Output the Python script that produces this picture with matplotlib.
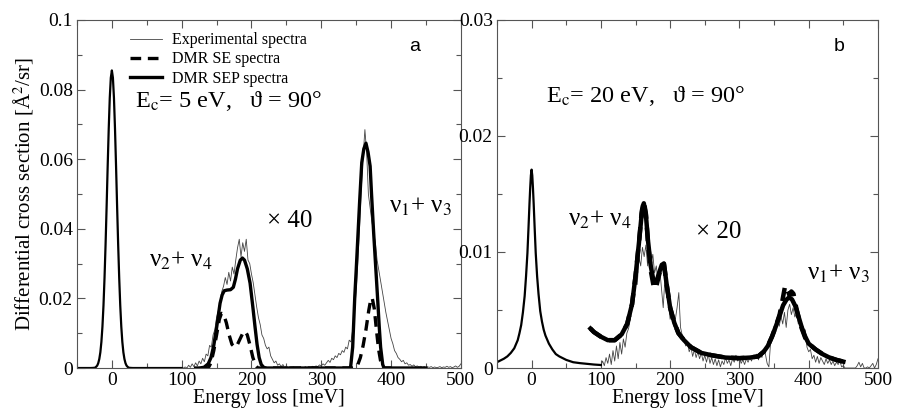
import numpy as np
import matplotlib.pyplot as plt
from matplotlib.ticker import MultipleLocator

plt.rcParams['font.family'] = ['Liberation Serif', 'DejaVu Serif']
plt.rcParams['mathtext.fontset'] = 'stix'

# ---------------- panel a : Ec = 5 eV ----------------
a_el_x = [-50, -30, -27, -24, -22.5, -21, -19.5, -18, -16.5, -15, -13.5, -12, -10.5, -9, -7.5,
          -6, -4.5, -3, -1.5, 0, 1.5, 3, 4.5, 6, 7.5, 9, 10.5, 12, 13.5, 15, 16.5, 18, 19.5,
          21, 22.5, 24, 27, 30, 100]
a_el_y = [0, 0, 0.00003, 0.0001, 0.00036, 0.0007, 0.0014, 0.0026, 0.0045, 0.0075, 0.0119,
          0.018, 0.026, 0.0356, 0.0465, 0.058, 0.0687, 0.0776, 0.0834, 0.0855, 0.0834, 0.0776,
          0.0687, 0.058, 0.0465, 0.0356, 0.026, 0.018, 0.0119, 0.0075, 0.0045, 0.0026, 0.0014,
          0.0007, 0.00036, 0.0001, 0.00003, 0, 0]

a_sep_x = [120, 125, 132, 138, 142, 146, 150, 155, 158, 161, 165, 170, 174, 177, 180, 184, 187,
           190, 194, 198, 202, 205, 208, 211, 214, 218, 222, 340, 342, 345, 348, 350, 353, 355,
           358, 361, 364, 367, 370, 372, 375, 378, 381, 383, 385, 388, 390, 450]
a_sep_y = [0, 0, 0.0002, 0.0012, 0.003, 0.0065, 0.0115, 0.0186, 0.021, 0.0222, 0.0224, 0.0225,
           0.0232, 0.0255, 0.0285, 0.031, 0.0316, 0.031, 0.0285, 0.0244, 0.0175, 0.012, 0.0068,
           0.003, 0.001, 0.0001, 0, 0, 0.0002, 0.006, 0.0205, 0.028, 0.040, 0.048, 0.059, 0.063,
           0.0646, 0.062, 0.058, 0.050, 0.039, 0.029, 0.019, 0.012, 0.006, 0.001, 0, 0]

a_se_x = [130, 138, 142, 146, 150, 154, 157, 160, 164, 168, 172, 176, 180, 184, 188, 191, 194,
          198, 202, 206, 209, 348, 352, 356, 360, 364, 368, 371, 373, 376, 379, 382, 385, 389, 400]
a_se_y = [0, 0, 0.0015, 0.005, 0.0095, 0.014, 0.0157, 0.0155, 0.013, 0.0095, 0.0068, 0.006,
          0.0068, 0.0085, 0.0102, 0.0105, 0.0095, 0.0065, 0.003, 0.0008, 0, 0, 0.0008, 0.003,
          0.0065, 0.011, 0.0165, 0.0198, 0.0201, 0.017, 0.011, 0.0055, 0.002, 0, 0]

# experimental, 100..500 meV every 2.5 meV
exp_x = np.arange(100, 500.1, 2.5)
a_exp_y = [0, 0, 0.0003, 0, 0.0008, 0.0002, 0.0012, 0.0004, 0.0015,
           0.0006, 0.002, 0.0012, 0.0028, 0.0018, 0.004, 0.0035, 0.0065,
           0.006, 0.0095, 0.011, 0.0145, 0.0165, 0.019, 0.022, 0.0235,
           0.026, 0.024, 0.0275, 0.025, 0.029, 0.027, 0.031, 0.0345,
           0.037, 0.032, 0.036, 0.0335, 0.037, 0.031, 0.030, 0.027,
           0.0245, 0.021, 0.0175, 0.0145, 0.0125, 0.0095, 0.0085, 0.0065,
           0.0055, 0.006, 0.0035, 0.0025, 0.0015, 0.002, 0.0008, 0.0012,
           0.0004, 0.001, 0.0002, 0.0006, 0.0001, 0.0004, 0, 0.0003,
           0, 0.0002, 0, 0.0003, 0, 0.0001, 0.0004, 0, 0.0002, 0.0001, 0.0005, 0.0003,
           0.0006, 0.0004, 0.0009, 0.0006,
           0.0012, 0.0008, 0.0015, 0.0022, 0.0016, 0.0028, 0.0024, 0.0035,
           0.003, 0.0042, 0.0038, 0.005, 0.0045, 0.006, 0.0055, 0.008,
           0.0075, 0.011, 0.016, 0.022, 0.031, 0.041, 0.052, 0.061,
           0.0685, 0.062, 0.050, 0.046, 0.042, 0.039, 0.036, 0.031,
           0.028, 0.025, 0.022, 0.019, 0.016, 0.0135, 0.011, 0.0085,
           0.007, 0.005, 0.0042, 0.003, 0.0025, 0.0018, 0.0022, 0.0012,
           0.0015, 0.0008, 0.001, 0.0005, 0.0009, 0.0004, 0.0006, 0.0003,
           0.0005, 0.0002, 0.0004, 0.0001, 0.0003, 0.0002, 0.0004, 0.0001,
           0.0003, 0.0001, 0.0002, 0.0004, 0.0001, 0.0003, 0.0002, 0.0005,
           0.0002, 0.0004, 0.0001, 0.0003, 0.0006, 0.0002, 0.0005, 0.0012]

# ---------------- panel b : Ec = 20 eV ----------------
b_el_x = [-50, -45, -40, -35, -30, -25, -20, -17.5, -15, -12.5, -10, -8, -6, -4.5, -3, -2, -1,
          0, 1, 2, 3, 4.5, 6, 8, 10, 12.5, 15, 17.5, 20, 25, 30, 35, 40, 45, 50, 55, 60, 70,
          80, 90, 100]
b_el_y = [0.0005, 0.00065, 0.0008, 0.001, 0.0013, 0.0017, 0.0024, 0.003, 0.0037, 0.0048,
          0.0062, 0.0079, 0.0099, 0.012, 0.0142, 0.0155, 0.0166, 0.0171, 0.0166, 0.0155,
          0.0142, 0.012, 0.0099, 0.0079, 0.0064, 0.0049, 0.0040, 0.0033, 0.0028, 0.0021,
          0.0016, 0.0012, 0.0010, 0.00085, 0.0007, 0.0006, 0.0005, 0.00042, 0.00036, 0.0003,
          0.00026]

b_sep_x = [85, 90, 100, 110, 120, 130, 138, 145, 150, 155, 159, 162, 165, 168, 172, 176, 180,
           184, 188, 191, 195, 200, 206, 212, 220, 230, 245, 260, 280, 300, 315, 327, 335, 341,
           347, 352, 358, 363, 368, 372, 376, 381, 385, 390, 395, 400, 410, 420, 430, 440, 450]
b_sep_y = [0.0034, 0.0031, 0.0027, 0.0024, 0.0024, 0.0029, 0.0038, 0.0055, 0.0079, 0.0108,
           0.0133, 0.0142, 0.0132, 0.011, 0.0088, 0.0075, 0.0074, 0.0082, 0.0089, 0.009,
           0.0072, 0.0052, 0.0039, 0.003, 0.0024, 0.0018, 0.0013, 0.0011, 0.0009, 0.00085,
           0.0009, 0.001, 0.0014, 0.0019, 0.0027, 0.0035, 0.0045, 0.0054, 0.0059, 0.0061,
           0.0059, 0.0053, 0.0045, 0.0035, 0.0027, 0.0021, 0.0016, 0.0012, 0.0009, 0.0007,
           0.00055]

b_se_x = [85, 90, 100, 110, 120, 130, 138, 145, 150, 155, 159, 162, 165, 168, 172, 176, 179,
          184, 188, 191, 195, 200, 206, 212, 220, 230, 245, 260, 280, 300, 315, 327, 335, 341,
          347, 352, 358, 362, 366, 369, 372, 375, 378, 382, 386, 390, 395, 400, 410, 420, 430,
          440, 450]
b_se_y = [0.0034, 0.0031, 0.0027, 0.0024, 0.0024, 0.0029, 0.0038, 0.0055, 0.0079, 0.0108,
          0.0135, 0.0144, 0.0133, 0.0108, 0.0084, 0.0071, 0.0068, 0.0080, 0.0089, 0.009,
          0.0072, 0.0052, 0.0039, 0.003, 0.0024, 0.0018, 0.0013, 0.0011, 0.0009, 0.00085,
          0.0009, 0.001, 0.0014, 0.0019, 0.0027, 0.0035, 0.0046, 0.0058, 0.0071, 0.0068,
          0.0063, 0.0066, 0.0064, 0.0052, 0.0042, 0.0034, 0.0026, 0.0021, 0.0016, 0.0012,
          0.0009, 0.0007, 0.00055]

b_exp_y = [0.0002, 0.0006, 0.0002, 0.0009, 0.0004, 0.0012, 0.0003, 0.0015, 0.0006,
           0.0019, 0.0008, 0.0022, 0.0012, 0.0025, 0.0018, 0.003, 0.0034,
           0.0042, 0.0052, 0.0065, 0.008, 0.0072, 0.0095, 0.0088, 0.0104,
           0.0096, 0.0106, 0.0088, 0.0104, 0.009, 0.0098, 0.0082, 0.0088,
           0.0075, 0.0085, 0.0068, 0.0052, 0.0078, 0.0062, 0.0055, 0.0042,
           0.0048, 0.0036, 0.0042, 0.0052, 0.0065, 0.0035, 0.0028, 0.0024,
           0.0019, 0.0022, 0.0014, 0.0018, 0.001, 0.0016, 0.0009, 0.0014,
           0.0008, 0.0013, 0.0006, 0.0011, 0.0005, 0.0012, 0.0004, 0.0009,
           0.0003, 0.0008, 0.0002, 0.0007, 0.0001, 0.0006, 0.0003, 0.0009, 0.0004, 0.0007,
           0.0002, 0.0008, 0.0005, 0.0011, 0.0006, 0.0009,
           0.0004, 0.0007, 0.0003, 0.0008, 0.0005, 0.0009, 0.0006, 0.0011,
           0.0008, 0.0012, 0.0007, 0.0013, 0.0009, 0.0016, 0.0012, 0.0004,
           0.0001, 0.0022, 0.0028, 0.0036, 0.0031, 0.0042, 0.0036, 0.0045,
           0.0038, 0.0048, 0.0035, 0.005, 0.0055, 0.0046, 0.0052, 0.0044,
           0.0047, 0.0038, 0.0041, 0.0032, 0.0028, 0.0033, 0.0018, 0.0014,
           0.0016, 0.0008, 0.0011, 0.0005, 0.001, 0.0004, 0.0009, 0.0006,
           0.0003, 0.0008, 0.0004, 0.0007, 0.0003, 0.0006, 0.0002, 0.0005,
           0.0003, 0.0006, 0.0001, 0.0002, 0, 0, 0, 0,
           0, 0, 0, 0.0002, 0.0005, 0.0001, 0.0004, 0,
           0, 0.0001, 0, 0.0002, 0.0004, 0, 0.0003, 0.0008]

x_ticks = [0, 100, 200, 300, 400, 500]
x_labels = ['0', '100', '200', '300', '400', '500']
a_yticks = [0, 0.02, 0.04, 0.06, 0.08, 0.1]
a_ylabels = ['0', '0.02', '0.04', '0.06', '0.08', '0.1']
b_yticks = [0, 0.01, 0.02, 0.03]
b_ylabels = ['0', '0.01', '0.02', '0.03']

fig = plt.figure(figsize=(8.97, 4.09), dpi=100)
ax1 = fig.add_axes([0.0858, 0.1002, 0.428, 0.851])
ax2 = fig.add_axes([0.554, 0.1002, 0.4248, 0.851])

exp_style = dict(color='#444444', lw=0.6)

# panel a
l_exp, = ax1.plot(exp_x, a_exp_y, **exp_style)
ax1.plot(a_el_x, a_el_y, color='black', lw=1.6)
l_se, = ax1.plot(a_se_x, a_se_y, color='black', lw=2.4, ls=(0, (3.2, 2)))
l_sep, = ax1.plot(a_sep_x, a_sep_y, color='black', lw=2.4)

# panel b
ax2.plot(exp_x, b_exp_y, **exp_style)
ax2.plot(b_el_x, b_el_y, color='black', lw=1.6)
ax2.plot(b_se_x, b_se_y, color='black', lw=3.2, ls=(0, (3, 2)))
ax2.plot(b_sep_x, b_sep_y, color='black', lw=3.2)

serif = 'Liberation Serif'
for ax, yt, yl, ymax, ymin in [(ax1, a_yticks, a_ylabels, 0.1, 0.01),
                               (ax2, b_yticks, b_ylabels, 0.03, 0.005)]:
    ax.set_xlim(-50, 500)
    ax.set_ylim(0, ymax)
    ax.set_xticks(x_ticks)
    ax.set_xticklabels(x_labels, fontfamily=serif, fontsize=14)
    ax.xaxis.set_minor_locator(MultipleLocator(50))
    ax.set_yticks(yt)
    ax.set_yticklabels(yl, fontfamily=serif, fontsize=14)
    ax.yaxis.set_minor_locator(MultipleLocator(ymin))
    ax.tick_params(which='both', direction='in', top=True, right=True,
                   width=0.8, color='#555555', pad=3)
    ax.tick_params(which='major', length=6)
    ax.tick_params(which='minor', length=3.5)
    for s in ax.spines.values():
        s.set_linewidth(0.8)
        s.set_color('#555555')
    ax.set_xlabel('Energy loss [meV]', fontsize=14.5, fontfamily=serif, labelpad=0)

ax1.set_ylabel('Differential cross section [Å$^{2}$/sr]', fontsize=15, labelpad=2)

leg = ax1.legend([l_exp, l_se, l_sep], ['Experimental spectra', 'DMR SE spectra', 'DMR SEP spectra'],
                 loc='upper left', bbox_to_anchor=(0.11, 0.997), frameon=False, fontsize=11.5,
                 handlelength=2.0, handletextpad=0.6, labelspacing=0.2, borderpad=0.2)

ax1.text(0.15, 0.75, 'E$_{\\rm c}$= 5 eV,   ϑ = 90°', transform=ax1.transAxes, fontsize=17.5)
ax1.text(0.865, 0.91, 'a', transform=ax1.transAxes, fontsize=14, family='Liberation Sans')
ax1.text(222, 0.0405, '× 40', fontsize=18)
ax1.text(53, 0.029, 'ν$_{2}$+ ν$_{4}$', fontsize=18)
ax1.text(397, 0.0445, 'ν$_{1}$+ ν$_{3}$', fontsize=18)

ax2.text(0.13, 0.765, 'E$_{\\rm c}$= 20 eV,   ϑ = 90°', transform=ax2.transAxes, fontsize=17.5)
ax2.text(0.885, 0.91, 'b', transform=ax2.transAxes, fontsize=14, family='Liberation Sans')
ax2.text(53, 0.0123, 'ν$_{2}$+ ν$_{4}$', fontsize=18)
ax2.text(237, 0.0112, '× 20', fontsize=18)
ax2.text(397, 0.0076, 'ν$_{1}$+ ν$_{3}$', fontsize=18)

fig.savefig('out.png', dpi=100)
